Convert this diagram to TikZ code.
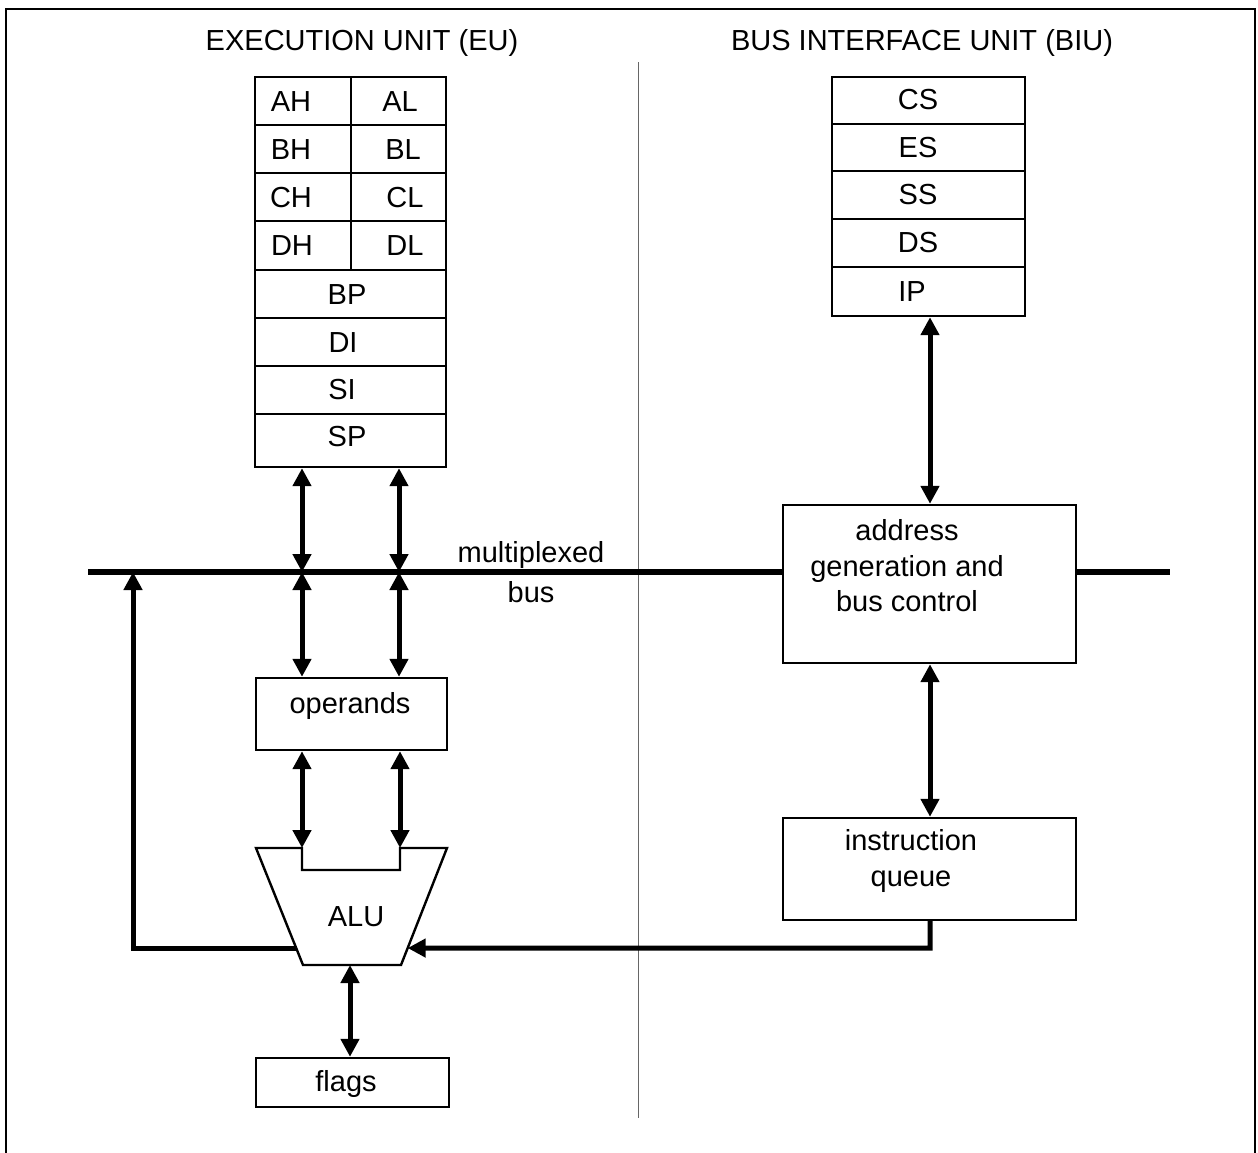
\documentclass[tikz,border=0pt]{standalone}
\usepackage{fontspec}
\setmainfont{Liberation Sans}
\usetikzlibrary{arrows.meta,calc}
\begin{document}
\begin{tikzpicture}[x=0.5pt,y=-0.5pt,
  txt/.style={font=\fontsize{14.5}{17.3}\selectfont, inner sep=0pt, align=center},
  boxp/.style={draw, line width=1.2pt, inner sep=0pt},
  dbl/.style={line width=2.5pt, {Triangle[length=9pt,width=9pt]}-{Triangle[length=9pt,width=9pt]}},
  sgl/.style={line width=2.5pt, -{Triangle[length=9pt,width=9pt]}},
  busline/.style={line width=2.6pt},
]
\useasboundingbox (0,0) rectangle (1258,1152);
% frame
\draw[line width=1.2pt] (6,1160) -- (6,9) -- (1255,9) -- (1255,1160);
% divider
\draw[line width=0.5pt, black!60] (638,62) -- (638,1118);
% titles
\node[txt] (eu) at (362,43) {EXECUTION UNIT (EU)};
\node[txt] (biu) at (922,43) {BUS INTERFACE UNIT (BIU)};

% general registers
\node[boxp, minimum width=48pt, minimum height=24pt] (AH) at (303,101) {};
\node[boxp, minimum width=47.5pt, minimum height=24pt] (AL) at (398.5,101) {};
\node[boxp, minimum width=48pt, minimum height=24pt] (BH) at (303,149) {};
\node[boxp, minimum width=47.5pt, minimum height=24pt] (BL) at (398.5,149) {};
\node[boxp, minimum width=48pt, minimum height=24pt] (CH) at (303,197) {};
\node[boxp, minimum width=47.5pt, minimum height=24pt] (CL) at (398.5,197) {};
\node[boxp, minimum width=48pt, minimum height=24.5pt] (DH) at (303,245.5) {};
\node[boxp, minimum width=47.5pt, minimum height=24.5pt] (DL) at (398.5,245.5) {};
\node[boxp, minimum width=95.5pt, minimum height=24pt] (BP) at (350.5,294) {};
\node[boxp, minimum width=95.5pt, minimum height=24pt] (DI) at (350.5,342) {};
\node[boxp, minimum width=95.5pt, minimum height=24pt] (SI) at (350.5,390) {};
\node[boxp, minimum width=95.5pt, minimum height=26.5pt] (SP) at (350.5,440.5) {};
\node[txt] (tAH) at (291,102) {AH};
\node[txt] (tAL) at (400,102) {AL};
\node[txt] (tBH) at (291,150) {BH};
\node[txt] (tBL) at (403,150) {BL};
\node[txt] (tCH) at (291,198) {CH};
\node[txt] (tCL) at (405,198) {CL};
\node[txt] (tDH) at (292,246) {DH};
\node[txt] (tDL) at (405,246) {DL};
\node[txt] (tBP) at (347,295) {BP};
\node[txt] (tDI) at (343,343) {DI};
\node[txt] (tSI) at (342,390) {SI};
\node[txt] (tSP) at (347,437) {SP};

% segment registers
\node[boxp, minimum width=96.5pt, minimum height=23.5pt] (CS) at (928.5,100.5) {};
\node[boxp, minimum width=96.5pt, minimum height=23.5pt] (ES) at (928.5,147.5) {};
\node[boxp, minimum width=96.5pt, minimum height=24pt] (SS) at (928.5,195) {};
\node[boxp, minimum width=96.5pt, minimum height=24pt] (DS) at (928.5,243) {};
\node[boxp, minimum width=96.5pt, minimum height=24.5pt] (IP) at (928.5,291.5) {};
\node[txt] (tCS) at (918,100) {CS};
\node[txt] (tES) at (918,148) {ES};
\node[txt] (tSS) at (918,195) {SS};
\node[txt] (tDS) at (918,243) {DS};
\node[txt] (tIP) at (912,292) {IP};

% BIU boxes
\node[boxp, minimum width=146.5pt, minimum height=79pt] (addr) at (929.5,584) {};
\node[txt] (taddr) at (907,566) {address\\[0.5pt]generation and\\[0.5pt]bus control};
\node[boxp, minimum width=146.5pt, minimum height=51pt] (queue) at (929.5,869) {};
\node[txt] (tqueue) at (911,861) {instruction\\[0.5pt]queue};

% EU boxes
\node[boxp, minimum width=95.5pt, minimum height=36pt] (ops) at (351.5,714) {};
\node[txt] (tops) at (350,706) {operands};
\node[boxp, minimum width=96.5pt, minimum height=24.5pt] (flags) at (352.5,1082.5) {};
\node[txt] (tflags) at (346,1084) {flags};

% ALU
\coordinate (atl) at (256,848);
\coordinate (n1) at (302,848);
\coordinate (n2) at (302,870);
\coordinate (n3) at (400,870);
\coordinate (n4) at (400,848);
\coordinate (atr) at (447,848);
\coordinate (abr) at (401,965);
\coordinate (abl) at (303,965);
\draw[line width=1.2pt, line join=miter] (atl) -- (n1) -- (n2) -- (n3) -- (n4) -- (atr) -- (abr) -- (abl) -- cycle;
\node[txt] (alu) at (356,917) {ALU};
\coordinate (aluL) at ($(atl)!0.855!(abl)$);
\coordinate (aluR) at ($(atr)!0.855!(abr)$);
\coordinate (aluB) at (350,965);

% multiplexed bus
\coordinate (busL) at (88,572);
\coordinate (busR) at (1170,572);
\coordinate (b1) at (302,572);
\coordinate (b2) at (399,572);
\coordinate (bf) at (133,572);
\draw[busline] (busL) -- (addr.west |- busL);
\draw[busline] (addr.east |- busR) -- (busR);
\node[txt, font=\fontsize{14.5}{20}\selectfont] (tbus) at (531,572) {multiplexed\\bus};

% EU connectors
\draw[dbl] (b1 |- SP.south) -- (b1);
\draw[dbl] (b2 |- SP.south) -- (b2);
\draw[dbl] (b1) -- (b1 |- ops.north);
\draw[dbl] (b2) -- (b2 |- ops.north);
\draw[dbl] (n1 |- ops.south) -- (n1);
\draw[dbl] (n4 |- ops.south) -- (n4);
\draw[dbl] (aluB) -- (aluB |- flags.north);
\draw[sgl, line join=miter] (aluL) -- (bf |- aluL) -- (bf);

% BIU connectors
\draw[dbl] (IP.south -| 930,0) -- (addr.north -| 930,0);
\draw[dbl] (addr.south -| 930,0) -- (queue.north -| 930,0);
\draw[sgl, line join=miter] (queue.south -| 930,0) -- (930,948) -- (aluR);
\end{tikzpicture}
\end{document}
